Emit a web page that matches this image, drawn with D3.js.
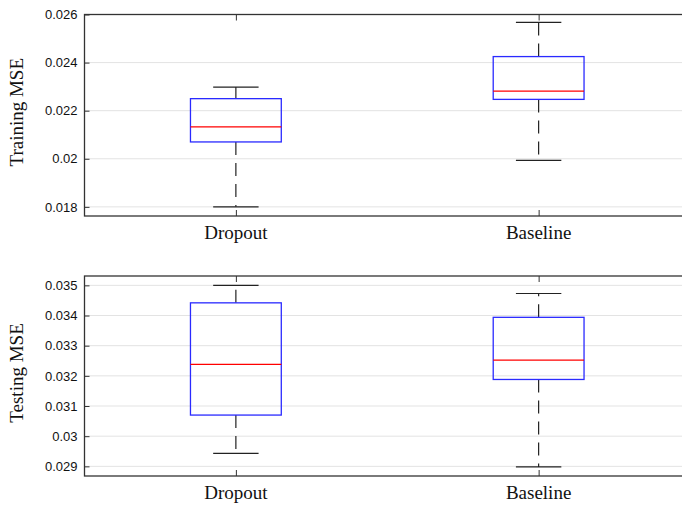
<!DOCTYPE html>
<html>
<head>
<meta charset="utf-8">
<script src="https://cdn.jsdelivr.net/npm/d3@7"></script>
<style>
  body { margin: 0; background: #fff; }
  svg { display: block; }
  .cat { font-family: "Liberation Serif", "Times New Roman", Times, serif; font-size: 19px; fill: #111; }
</style>
</head>
<body>
<div class="chart"></div>
<script>
var categories = ['Dropout', 'Baseline'];

// training MSE box stats
var trainLow = [0.0180, 0.01993];
var trainQ1 = [0.0207, 0.02247];
var trainMedian = [0.02133, 0.02281];
var trainQ3 = [0.0225, 0.02425];
var trainHigh = [0.02298, 0.02567];
var trainTicks = [0.018, 0.02, 0.022, 0.024, 0.026];
var trainTickLabels = ['0.018', '0.02', '0.022', '0.024', '0.026'];

// testing MSE box stats
var testLow = [0.02943, 0.02898];
var testQ1 = [0.0307, 0.03188];
var testMedian = [0.03238, 0.03252];
var testQ3 = [0.03442, 0.03394];
var testHigh = [0.035, 0.03473];
var testTicks = [0.029, 0.03, 0.031, 0.032, 0.033, 0.034, 0.035];
var testTickLabels = ['0.029', '0.03', '0.031', '0.032', '0.033', '0.034', '0.035'];

var fullWidth = 682;
var fullHeight = 505;
var serif = '"Liberation Serif", "Times New Roman", serif';
var sans = '"Liberation Sans", Arial, sans-serif';

var svg = d3.select('.chart')
  .append('svg')
  .attr('width', fullWidth)
  .attr('height', fullHeight);

var xScale = d3.scaleLinear()
  .domain([0.5, 2.5])
  .range([84.5, 690]);

function panel(opts) {
  var yScale = d3.scaleLinear()
    .domain(opts.domain)
    .range([opts.bottom, opts.top]);

  var g = svg.append('g');

  // grid
  g.selectAll('line.grid')
    .data(opts.ticks)
    .enter()
    .append('line')
    .attr('class', 'grid')
    .attr('x1', xScale(0.5))
    .attr('x2', xScale(2.5))
    .attr('y1', d => yScale(d))
    .attr('y2', d => yScale(d))
    .style('stroke', '#e3e3e3')
    .style('stroke-width', 1);

  var boxes = categories.map((c, i) => ({
    name: c, pos: i + 1,
    low: opts.low[i], q1: opts.q1[i], med: opts.median[i], q3: opts.q3[i], high: opts.high[i]
  }));

  var bw = 0.3, cw = 0.15;

  // whiskers (dashed)
  [['q1', 'low'], ['q3', 'high']].forEach(function(pair) {
    g.selectAll('line.w-' + pair[1])
      .data(boxes)
      .enter()
      .append('line')
      .attr('x1', d => xScale(d.pos))
      .attr('x2', d => xScale(d.pos))
      .attr('y1', d => yScale(d[pair[0]]))
      .attr('y2', d => yScale(d[pair[1]]))
      .style('stroke', '#222')
      .style('stroke-width', 1.2)
      .style('stroke-dasharray', '13,8');
  });

  // caps
  ['low', 'high'].forEach(function(k) {
    g.selectAll('line.cap-' + k)
      .data(boxes)
      .enter()
      .append('line')
      .attr('x1', d => xScale(d.pos - cw / 2))
      .attr('x2', d => xScale(d.pos + cw / 2))
      .attr('y1', d => yScale(d[k]))
      .attr('y2', d => yScale(d[k]))
      .style('stroke', '#222')
      .style('stroke-width', 1.2);
  });

  // boxes
  g.selectAll('rect.box')
    .data(boxes)
    .enter()
    .append('rect')
    .attr('x', d => xScale(d.pos - bw / 2))
    .attr('width', d => xScale(d.pos + bw / 2) - xScale(d.pos - bw / 2))
    .attr('y', d => yScale(d.q3))
    .attr('height', d => yScale(d.q1) - yScale(d.q3))
    .style('fill', 'none')
    .style('stroke', '#2a2aff')
    .style('stroke-width', 1.3);

  // medians
  g.selectAll('line.med')
    .data(boxes)
    .enter()
    .append('line')
    .attr('x1', d => xScale(d.pos - bw / 2))
    .attr('x2', d => xScale(d.pos + bw / 2))
    .attr('y1', d => yScale(d.med))
    .attr('y2', d => yScale(d.med))
    .style('stroke', '#ff0000')
    .style('stroke-width', 1.2);

  // y axis, ticks inside
  var yAxis = d3.axisLeft(yScale)
    .tickValues(opts.ticks)
    .tickFormat((d, i) => opts.tickLabels[i])
    .tickSizeInner(-5)
    .tickSizeOuter(0)
    .tickPadding(7);

  var ya = g.append('g')
    .attr('transform', `translate(${xScale(0.5)},0)`)
    .call(yAxis)
    .attr('font-family', sans)
    .attr('font-size', 13);
  ya.select('.domain').remove();
  ya.selectAll('line').style('stroke', '#333');
  ya.selectAll('text').style('fill', '#111');

  // bottom axis: inward ticks only, labels drawn below
  var xAxis = d3.axisBottom(xScale)
    .tickValues([1, 2])
    .tickFormat('')
    .tickSizeInner(-6)
    .tickSizeOuter(0);

  var xa = g.append('g')
    .attr('transform', `translate(0,${opts.bottom})`)
    .call(xAxis);
  xa.select('.domain').remove();
  xa.selectAll('line').style('stroke', '#333');

  g.selectAll('text.cat')
    .data(boxes)
    .enter()
    .append('text')
    .attr('class', 'cat')
    .attr('x', d => xScale(d.pos))
    .attr('y', opts.bottom + 23)
    .attr('text-anchor', 'middle')
    .text(d => d.name);

  // top axis ticks (inward, no labels)
  var topAxis = d3.axisTop(xScale)
    .tickValues([1, 2])
    .tickFormat('')
    .tickSizeInner(-6)
    .tickSizeOuter(0);

  var ta = g.append('g')
    .attr('transform', `translate(0,${opts.top})`)
    .call(topAxis);
  ta.select('.domain').remove();
  ta.selectAll('line').style('stroke', '#333');

  // frame
  g.append('rect')
    .attr('x', xScale(0.5))
    .attr('y', opts.top)
    .attr('width', xScale(2.5) - xScale(0.5))
    .attr('height', opts.bottom - opts.top)
    .style('fill', 'none')
    .style('stroke', '#333')
    .style('stroke-width', 1.3);

  // y label
  g.append('text')
    .attr('class', 'cat')
    .attr('transform', `translate(23,${(opts.top + opts.bottom) / 2 - 3}) rotate(-90)`)
    .attr('text-anchor', 'middle')
    .text(opts.label);
}

panel({
  label: 'Training MSE',
  top: 14.5, bottom: 216,
  domain: [0.01762, 0.026],
  ticks: trainTicks, tickLabels: trainTickLabels,
  low: trainLow, q1: trainQ1, median: trainMedian, q3: trainQ3, high: trainHigh
});

panel({
  label: 'Testing MSE',
  top: 276, bottom: 476,
  domain: [0.02868, 0.03531],
  ticks: testTicks, tickLabels: testTickLabels,
  low: testLow, q1: testQ1, median: testMedian, q3: testQ3, high: testHigh
});
</script>
</body>
</html>
